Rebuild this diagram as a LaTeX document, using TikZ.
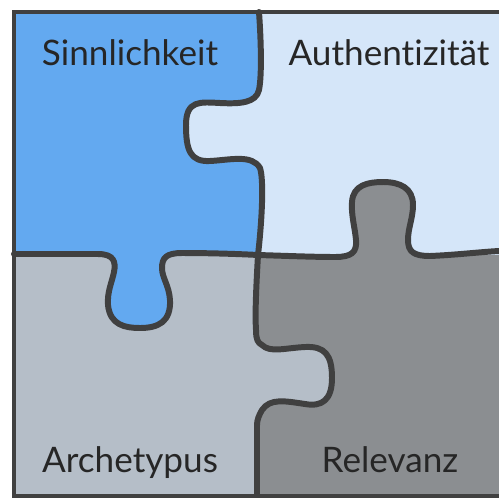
\documentclass[tikz,border=0pt]{standalone}
\usepackage{fontspec}
\setmainfont{Lato}[Ligatures=NoCommon]
\definecolor{sinnblau}{HTML}{63A9F0}
\definecolor{authblau}{HTML}{D5E6F9}
\definecolor{archgrau}{HTML}{B5BEC8}
\definecolor{relgrau}{HTML}{8B8E91}
\definecolor{rand}{HTML}{404040}
\tikzset{
  seam/.style={draw=rand, line width=3.4pt, line cap=round, line join=round},
  frame/.style={draw=rand, line width=2.6pt},
  teil/.style={anchor=base, font=\fontsize{20}{24}\selectfont, text=black!85}
}
\begin{document}
\begin{tikzpicture}[x=0.02cm, y=-0.02cm]
	\useasboundingbox (0,0) rectangle (499,497);
	% the four quarters
	\fill[sinnblau] (14,12) rectangle (260,255);
	\fill[authblau] (260,12) rectangle (499,255);
	\fill[archgrau] (14,255) rectangle (258,497);
	\fill[relgrau] (258,255) rectangle (499,497);
	% tabs reaching into the neighbours
	\fill[sinnblau] (98,254) .. controls (114,254) and (116,262) .. (114,272) .. controls (112,282) and (107,292) .. (108,305) .. controls (110,325) and (125,328) .. (140,328) .. controls (158,328) and (171,322) .. (170,300) .. controls (169,285) and (162,278) .. (162,268) .. controls (162,258) and (166,253) .. (182,253) -- (182,248) -- (98,248) -- cycle;
	\fill[relgrau] (335,257) .. controls (352,257) and (357,252) .. (356,240) .. controls (355,228) and (351,215) .. (352,202) .. controls (353,185) and (368,182) .. (383,182) .. controls (400,182) and (413,188) .. (413,205) .. controls (413,218) and (408,228) .. (408,240) .. controls (408,252) and (414,256) .. (430,256) -- (430,262) -- (335,262) -- cycle;
	\fill[authblau] (259,90) .. controls (256,103) and (240,104) .. (220,103) .. controls (200,102) and (186,100) .. (186,125) .. controls (186,150) and (190,162) .. (210,161) .. controls (230,160) and (252,154) .. (260,168) -- (266,168) -- (266,90) -- cycle;
	\fill[archgrau] (256,330) .. controls (256,340) and (258,343) .. (262,345) .. controls (270,353) and (285,348) .. (305,347) .. controls (325,346) and (332,355) .. (332,378) .. controls (332,400) and (322,407) .. (305,404) .. controls (285,401) and (270,398) .. (262,410) .. controls (259,415) and (257,420) .. (257,425) -- (250,425) -- (250,330) -- cycle;
	% seams
	\draw[seam] (14,254) -- (98,254) .. controls (114,254) and (116,262) .. (114,272) .. controls (112,282) and (107,292) .. (108,305) .. controls (110,325) and (125,328) .. (140,328) .. controls (158,328) and (171,322) .. (170,300) .. controls (169,285) and (162,278) .. (162,268) .. controls (162,258) and (166,253) .. (182,253) .. controls (210,253) and (240,254) .. (258,255) .. controls (290,256) and (315,257) .. (335,257) .. controls (352,257) and (357,252) .. (356,240) .. controls (355,228) and (351,215) .. (352,202) .. controls (353,185) and (368,182) .. (383,182) .. controls (400,182) and (413,188) .. (413,205) .. controls (413,218) and (408,228) .. (408,240) .. controls (408,252) and (414,256) .. (430,256) .. controls (455,255) and (480,252) .. (499,251);
	\draw[seam] (259,12) .. controls (261,40) and (262,75) .. (259,90) .. controls (256,103) and (240,104) .. (220,103) .. controls (200,102) and (186,100) .. (186,125) .. controls (186,150) and (190,162) .. (210,161) .. controls (230,160) and (252,154) .. (260,168) .. controls (264,180) and (262,220) .. (258,255) .. controls (256,290) and (255,315) .. (256,330) .. controls (256,340) and (258,343) .. (262,345) .. controls (270,353) and (285,348) .. (305,347) .. controls (325,346) and (332,355) .. (332,378) .. controls (332,400) and (322,407) .. (305,404) .. controls (285,401) and (270,398) .. (262,410) .. controls (259,415) and (257,420) .. (257,425) .. controls (257,450) and (257,475) .. (257,497);
	% outer frame
	\draw[frame] (499,12) -- (14,12) -- (14,496) -- (499,496);
	% labels
	\node[teil] (sinn) at (130,65) {Sinnlichkeit};
	\node[teil] (auth) at (389,65) {Authentizität};
	\node[teil] (arch) at (130,472) {Archetypus};
	\node[teil] (rel) at (390,472) {Relevanz};
\end{tikzpicture}
\end{document}
